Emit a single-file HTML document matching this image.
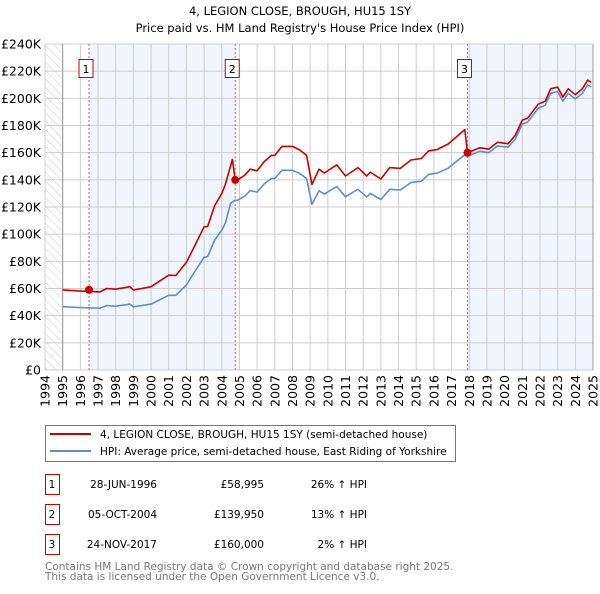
<!DOCTYPE html>
<html><head><meta charset="utf-8"><style>
body{margin:0;background:#fff;font-family:"DejaVu Sans","Liberation Sans",sans-serif;}
svg text{font-family:"DejaVu Sans","Liberation Sans",sans-serif;}
</style></head><body>
<svg id="c" width="600" height="590" xmlns="http://www.w3.org/2000/svg">
<defs><pattern id="hatch" width="6" height="6" patternUnits="userSpaceOnUse" patternTransform="rotate(-45)"><line x1="0" y1="0" x2="0" y2="6" stroke="#ccc" stroke-width="1"/></pattern></defs>
<text x="300" y="15" text-anchor="middle" font-size="11.5">4, LEGION CLOSE, BROUGH, HU15 1SY</text>
<text x="300" y="32" text-anchor="middle" font-size="11.5">Price paid vs. HM Land Registry's House Price Index (HPI)</text>
<g id="plot"></g>
<rect x="45.5" y="425.5" width="410" height="36" fill="#fff" stroke="#777"/>
<line x1="50" y1="434" x2="91" y2="434" stroke="#cc0000" stroke-width="2"/>
<text x="100" y="438" font-size="10.5">4, LEGION CLOSE, BROUGH, HU15 1SY (semi-detached house)</text>
<line x1="50" y1="451" x2="91" y2="451" stroke="#5b8fd0" stroke-width="2"/>
<text x="100" y="455" font-size="10.5">HPI: Average price, semi-detached house, East Riding of Yorkshire</text>
<g font-size="10.5" id="tbl"></g>
<text x="45" y="570" font-size="10.5" fill="#777">Contains HM Land Registry data © Crown copyright and database right 2025.</text>
<text x="45" y="580" font-size="10.5" fill="#777">This data is licensed under the Open Government Licence v3.0.</text>
</svg>
<script>
const hpiYears=[1995,1995.9,1997.1,1997.5,1998,1998.8,1999,2000,2001,2001.4,2002,2002.5,2003,2003.2,2003.6,2004,2004.2,2004.5,2004.75,2004.9,2005.3,2005.6,2006,2006.4,2006.8,2007,2007.4,2008,2008.4,2008.8,2009.1,2009.5,2009.8,2010.5,2011,2011.7,2012.2,2012.4,2013,2013.5,2014.1,2014.7,2015.3,2015.7,2016.2,2016.8,2017.7,2017.9,2018.6,2019.1,2019.6,2020.2,2020.6,2021,2021.3,2021.9,2022.3,2022.6,2023,2023.3,2023.6,2024,2024.4,2024.7,2024.9];
const hpiValues=[46.6,46,45.5,47.5,47,48.5,46.5,48.5,55,55,62.6,73,83,83.5,95.7,103,108,122.7,125,125,128,132,131,137,141,141,147,147,144.8,141,122,132,129.5,135,127.5,133,127.5,130,125.5,133,132.5,138,139,144,145,148.5,158,157.5,161,160,165,164,170,181,182.5,192.6,195,203.7,205,198,203.7,199.5,203.7,210,208.5];
const priceYears=[1995,1995.9,1997.1,1997.5,1998,1998.8,1999,2000,2001,2001.4,2002,2002.5,2003,2003.2,2003.6,2004,2004.2,2004.6,2004.76,2004.9,2005.3,2005.6,2006,2006.4,2006.8,2007,2007.4,2008,2008.4,2008.8,2009.1,2009.5,2009.8,2010.5,2011,2011.7,2012.2,2012.4,2013,2013.5,2014.1,2014.7,2015.3,2015.7,2016.2,2016.8,2017.75,2017.9,2018.6,2019.1,2019.6,2020.2,2020.6,2021,2021.3,2021.9,2022.3,2022.6,2023,2023.3,2023.6,2024,2024.4,2024.7,2024.9];
const priceValues=[59,58.2,57.5,60,59.5,61.3,58.8,61.3,69.8,69.6,79.2,92.3,105.5,105.6,121,130,136.6,155,140,140,143.4,147.8,146.7,153.4,158,158,164.6,164.6,162,158,136.6,147.8,145,151,142.8,149,142.8,145.6,140.6,149,148.4,154.6,155.7,161.3,162.4,166.3,177,160,163.6,162.6,167.6,166.6,172.7,184,185.4,195.7,198,207,208.3,201,207,202.7,207,213.4,211.8];
const saleYears=[1996.49,2004.76,2017.9];
const saleValues=[58.995,139.95,160];
const saleLabels=["1","2","3"];
const saleDates=["28-JUN-1996","05-OCT-2004","24-NOV-2017"];
const salePrices=["£58,995","£139,950","£160,000"];
const salePcts=["26% ↑ HPI","13% ↑ HPI","2% ↑ HPI"];
const yTicks=[0,20,40,60,80,100,120,140,160,180,200,220,240];
const yTickLabels=["£0","£20K","£40K","£60K","£80K","£100K","£120K","£140K","£160K","£180K","£200K","£220K","£240K"];
const xTicks=[];for(let y=1994;y<=2025;y++)xTicks.push(y);

const X0=45,X1=593,Y0=370,Y1=44;
const xs=y=>X0+(y-1994)/(2025-1994)*(X1-X0);
const ys=v=>Y0-v/240*(Y0-Y1);
const NS="http://www.w3.org/2000/svg";
const plot=document.getElementById('plot');
function mk(t,a,p){const e=document.createElementNS(NS,t);for(const k in a)e.setAttribute(k,a[k]);(p||plot).appendChild(e);return e;}
let e;
e=mk('rect',{x:X0,y:Y1,width:X1-X0,height:Y0-Y1,fill:'#fff'});


e=mk('rect',{x:X0,y:Y1,width:xs(1995)-X0,height:Y0-Y1,fill:'url(#hatch)'});


e=mk('rect',{x:xs(saleYears[0]),y:Y1,width:xs(saleYears[1])-xs(saleYears[0]),height:Y0-Y1,fill:'#eef3fc',opacity:0.8});


e=mk('rect',{x:xs(saleYears[2]),y:Y1,width:X1-xs(saleYears[2]),height:Y0-Y1,fill:'#eef3fc',opacity:0.8});


yTicks.forEach((v,i)=>{
 e=mk('line',{x1:X0,x2:X1,y1:ys(v),y2:ys(v),stroke:'#ccc','stroke-width':1});
 
 
 e=mk('text',{x:X0-4,y:ys(v)+4.5,'text-anchor':'end','font-size':12.5});
 e.textContent=yTickLabels[i];
 
 
});
xTicks.forEach(y=>{
 e=mk('line',{x1:xs(y),x2:xs(y),y1:Y1,y2:Y0,stroke:'#ccc','stroke-width':1});
 
 
 e=mk('text',{x:0,y:0,'text-anchor':'end','font-size':12.5,transform:`translate(${xs(y)+4.5},${Y0+5}) rotate(-90)`});
 e.textContent=y;
 
 
});
e=mk('line',{x1:xs(1995),x2:xs(1995),y1:Y1,y2:Y0,stroke:'#999'});


e=mk('line',{x1:X1,x2:X1,y1:Y1,y2:Y0,stroke:'#999'});


saleYears.forEach((y,i)=>{
 e=mk('line',{x1:xs(y),x2:xs(y),y1:Y1,y2:Y0,stroke:'#e06060','stroke-dasharray':'2,2','stroke-width':1});
 
 
});
function path(xa,va,col,name){
 const d=xa.map((x,i)=>(i?'L':'M')+xs(x).toFixed(1)+','+ys(va[i]).toFixed(1)).join('');
 e=mk('path',{d:d,fill:'none',stroke:col,'stroke-width':1.6,'stroke-linejoin':'round'});
 
 
}
path(hpiYears,hpiValues,'#5b8fd0','hpi-line');
path(priceYears,priceValues,'#cc0000','price-line');
saleYears.forEach((y,i)=>{
 e=mk('circle',{cx:xs(y),cy:ys(saleValues[i]),r:4,fill:'#cc0000'});
 
 
 const bx=xs(y)-10;
 e=mk('rect',{x:bx,y:59.5,width:14,height:18,fill:'#fff',stroke:'#cc0000'});
 
 
 e=mk('text',{x:bx+7,y:73,'text-anchor':'middle','font-size':11});
 e.textContent=saleLabels[i];
 
 
});
const tbl=document.getElementById('tbl');
saleLabels.forEach((l,i)=>{
 const cy=483+i*30;
 e=mk('rect',{x:45.5,y:cy-8.5,width:14,height:20,fill:'#fff',stroke:'#cc0000'},tbl);
 
 
 const cells=[[52,l,'middle'],[157,saleDates[i],'end'],[264,salePrices[i],'end'],[367,salePcts[i],'end']];
 cells.forEach(c=>{
  e=mk('text',{x:c[0],y:cy+5,'text-anchor':c[2]},tbl);
  e.textContent=c[1];
  
  
 });
});
</script>
</body></html>
